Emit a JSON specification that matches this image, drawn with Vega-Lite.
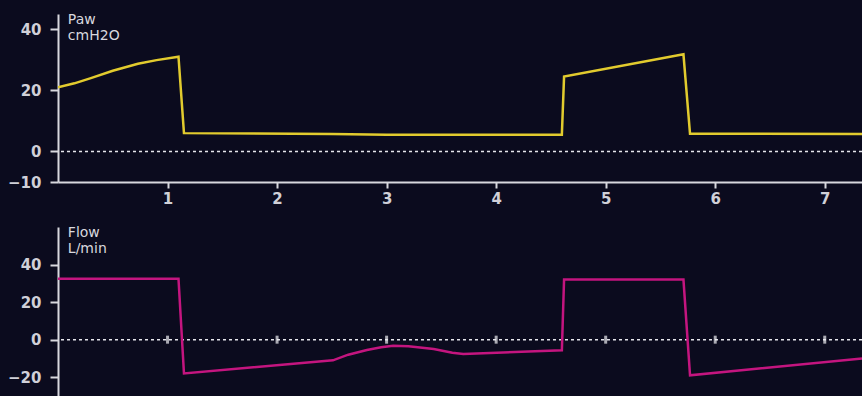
{
  "$schema": "https://vega.github.io/schema/vega-lite/v6.json",
  "background": "#0b0b1e",
  "padding": {"left": 7, "top": 13, "right": 0, "bottom": 0},
  "autosize": {"type": "pad"},
  "bounds": "flush",
  "spacing": 45,
  "config": {
    "view": {"stroke": null},
    "font": "DejaVu Sans",
    "axis": {
      "domainColor": "#d8d8de",
      "domainWidth": 2,
      "tickColor": "#d8d8de",
      "tickWidth": 2,
      "labelColor": "#d0d0d8",
      "labelFont": "DejaVu Sans",
      "labelFontSize": 15,
      "labelFontWeight": "bold",
      "grid": false,
      "title": null
    }
  },
  "datasets": {
    "paw": [
      {"t": 0, "p": 21},
      {"t": 0.15, "p": 22.3},
      {"t": 0.3, "p": 24},
      {"t": 0.5, "p": 26.4},
      {"t": 0.73, "p": 28.7},
      {"t": 0.9, "p": 29.9},
      {"t": 1.1, "p": 31},
      {"t": 1.15, "p": 6},
      {"t": 2.5, "p": 5.7},
      {"t": 3.0, "p": 5.5},
      {"t": 4.6, "p": 5.5},
      {"t": 4.62, "p": 24.5},
      {"t": 5.71, "p": 31.8},
      {"t": 5.77, "p": 5.8},
      {"t": 7.34, "p": 5.7}
    ],
    "flow": [
      {"t": 0, "f": 32.5},
      {"t": 1.1, "f": 32.5},
      {"t": 1.15, "f": -18},
      {"t": 2.51, "f": -11},
      {"t": 2.65, "f": -8},
      {"t": 2.82, "f": -5.5},
      {"t": 2.95, "f": -4},
      {"t": 3.06, "f": -3.3},
      {"t": 3.2, "f": -3.5},
      {"t": 3.43, "f": -5},
      {"t": 3.6, "f": -7},
      {"t": 3.7, "f": -7.6},
      {"t": 4.6, "f": -5.6},
      {"t": 4.62, "f": 32},
      {"t": 5.71, "f": 32},
      {"t": 5.77, "f": -19},
      {"t": 7.34, "f": -10}
    ],
    "ticks": [
      {"t": 1}, {"t": 2}, {"t": 3}, {"t": 4}, {"t": 5}, {"t": 6}, {"t": 7}
    ],
    "one": [{"k": 1}]
  },
  "vconcat": [
    {
      "width": 804,
      "height": 168,
      "layer": [
        {
          "data": {"name": "one"},
          "mark": {"type": "rule", "color": "#e6e6ec", "strokeWidth": 1.5, "strokeDash": [3, 3]},
          "encoding": {"y": {"datum": 0, "type": "quantitative", "scale": {"domain": [-10, 45], "nice": false}}}
        },
        {
          "data": {"name": "paw"},
          "mark": {"type": "line", "color": "#e2cb2e", "strokeWidth": 2.5, "clip": true},
          "encoding": {
            "x": {
              "field": "t", "type": "quantitative",
              "scale": {"domain": [0, 7.34], "nice": false, "zero": false},
              "axis": {"values": [1, 2, 3, 4, 5, 6, 7], "format": "d", "tickSize": 6, "labelPadding": 3}
            },
            "y": {
              "field": "p", "type": "quantitative",
              "scale": {"domain": [-10, 45], "nice": false},
              "axis": {"values": [-10, 0, 20, 40], "tickSize": 8, "labelPadding": 9}
            }
          }
        },
        {
          "data": {"name": "one"},
          "mark": {"type": "text", "align": "left", "baseline": "top", "color": "#d8d8de", "fontSize": 14, "lineHeight": 16, "font": "DejaVu Sans"},
          "encoding": {
            "x": {"datum": 0.09, "type": "quantitative"},
            "y": {"datum": 45.3, "type": "quantitative"},
            "text": {"value": ["Paw", "cmH2O"]}
          }
        }
      ]
    },
    {
      "width": 804,
      "height": 169,
      "layer": [
        {
          "data": {"name": "one"},
          "mark": {"type": "rule", "color": "#e6e6ec", "strokeWidth": 1.5, "strokeDash": [3, 3]},
          "encoding": {"y": {"datum": 0, "type": "quantitative", "scale": {"domain": [-30, 60], "nice": false}}}
        },
        {
          "data": {"name": "ticks"},
          "mark": {"type": "tick", "orient": "vertical", "color": "#f0f0f4", "size": 8, "thickness": 3},
          "encoding": {
            "x": {"field": "t", "type": "quantitative", "scale": {"domain": [0, 7.34], "nice": false, "zero": false}, "axis": null},
            "y": {"datum": 0, "type": "quantitative"}
          }
        },
        {
          "data": {"name": "flow"},
          "mark": {"type": "line", "color": "#c4157f", "strokeWidth": 2.5, "clip": true},
          "encoding": {
            "x": {"field": "t", "type": "quantitative", "scale": {"domain": [0, 7.34], "nice": false, "zero": false}, "axis": null},
            "y": {
              "field": "f", "type": "quantitative",
              "scale": {"domain": [-30, 60], "nice": false},
              "axis": {"values": [-20, 0, 20, 40], "tickSize": 8, "labelPadding": 9}
            }
          }
        },
        {
          "data": {"name": "one"},
          "mark": {"type": "text", "align": "left", "baseline": "top", "color": "#d8d8de", "fontSize": 14, "lineHeight": 16, "font": "DejaVu Sans"},
          "encoding": {
            "x": {"datum": 0.09, "type": "quantitative"},
            "y": {"datum": 60.5, "type": "quantitative"},
            "text": {"value": ["Flow", "L/min"]}
          }
        }
      ]
    }
  ]
}
